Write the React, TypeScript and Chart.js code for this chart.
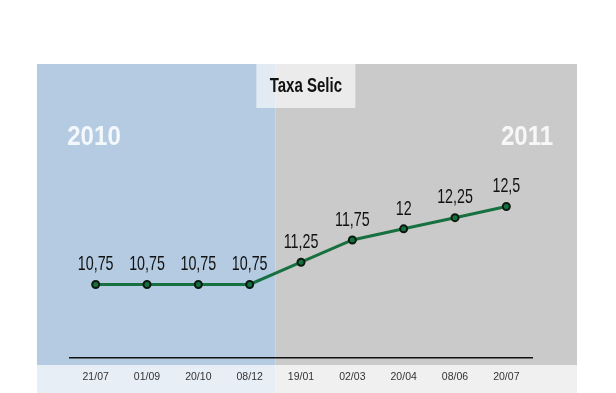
import React, { useEffect, useRef } from "react";
import { Chart, registerables } from "chart.js";

Chart.register(...registerables);

const categories = ["21/07", "01/09", "20/10", "08/12", "19/01", "02/03", "20/04", "08/06", "20/07"];
const selic = [10.75, 10.75, 10.75, 10.75, 11.25, 11.75, 12, 12.25, 12.5];
const valueLabels = ["10,75", "10,75", "10,75", "10,75", "11,25", "11,75", "12", "12,25", "12,5"];
const title = "Taxa Selic";
const years = ["2010", "2011"];

function narrowText(ctx: CanvasRenderingContext2D, text: string, x: number, y: number, sx: number) {
  ctx.save();
  ctx.translate(x, y);
  ctx.scale(sx, 1);
  ctx.fillText(text, 0, 0);
  ctx.restore();
}

const backgroundPlugin = {
  id: "bgPanels",
  beforeDraw(chart: any) {
    const { ctx, chartArea, scales } = chart;
    const x = scales.x;
    const split = (x.getPixelForValue(3) + x.getPixelForValue(4)) / 2;
    const left = chartArea.left - 33;
    const right = chartArea.right + 45;
    const top = chartArea.top;
    const bottom = chartArea.bottom + 7;
    const end = chart.height;
    ctx.save();
    ctx.fillStyle = "#b4cbe2";
    ctx.fillRect(left, top, split - left, bottom - top);
    ctx.fillStyle = "#cacaca";
    ctx.fillRect(split, top, right - split, bottom - top);
    ctx.fillStyle = "#e8eef6";
    ctx.fillRect(left, bottom, split - left, end - bottom);
    ctx.fillStyle = "#f0f0f0";
    ctx.fillRect(split, bottom, right - split, end - bottom);
    // title box
    ctx.fillStyle = "rgba(255,255,255,0.62)";
    ctx.fillRect(split - 19, top, 99, 44);
    ctx.fillStyle = "#111";
    ctx.font = "bold 20px 'Liberation Sans', sans-serif";
    ctx.textAlign = "center";
    ctx.textBaseline = "middle";
    narrowText(ctx, title, split - 19 + 49.5, top + 22, 0.75);
    // years
    ctx.fillStyle = "rgba(255,255,255,0.85)";
    ctx.font = "bold 28px 'Liberation Sans', sans-serif";
    narrowText(ctx, years[0], left + 57, top + 73, 0.86);
    narrowText(ctx, years[1], right - 50, top + 73, 0.86);
    ctx.restore();
  },
};

const labelPlugin = {
  id: "valueLabels",
  afterDatasetsDraw(chart: any) {
    const { ctx } = chart;
    const meta = chart.getDatasetMeta(0);
    ctx.save();
    ctx.fillStyle = "#111";
    ctx.font = "21px 'Liberation Sans', sans-serif";
    ctx.textAlign = "center";
    ctx.textBaseline = "middle";
    meta.data.forEach((pt: any, i: number) => {
      narrowText(ctx, valueLabels[i], pt.x, pt.y - 20, 0.68);
    });
    ctx.restore();
  },
};

export default function App() {
  const ref = useRef<HTMLCanvasElement>(null);
  useEffect(() => {
    document.body.style.margin = "0";
    const chart = new Chart(ref.current!, {
      type: "line",
      data: {
        labels: categories,
        datasets: [
          {
            data: selic,
            borderColor: "#17703f",
            borderWidth: 3,
            pointRadius: 3.5,
            pointBorderWidth: 2,
            pointBackgroundColor: "#17703f",
            pointBorderColor: "#0a1a10",
            tension: 0,
          },
        ],
      },
      options: {
        animation: false,
        responsive: false,
        maintainAspectRatio: false,
        layout: { padding: { left: 70, right: 84, top: 64, bottom: 0 } },
        plugins: { legend: { display: false }, tooltip: { enabled: false }, title: { display: false } },
        scales: {
          y: { display: false, min: 9.1, max: 15.7 },
          x: {
            offset: true,
            afterFit: (s: any) => {
              s.height = 35;
            },
            grid: { display: false, drawTicks: false },
            border: { display: true, color: "#111", width: 1.5 },
            ticks: {
              color: "#333",
              padding: 13,
              font: { size: 10.5, family: "'Liberation Sans', sans-serif" },
            },
          },
        },
      },
      plugins: [backgroundPlugin, labelPlugin],
    });
    return () => chart.destroy();
  }, []);
  return (
    <div style={{ width: 616, height: 393 }}>
      <canvas ref={ref} width={616} height={393} style={{ display: "block" }} />
    </div>
  );
}
